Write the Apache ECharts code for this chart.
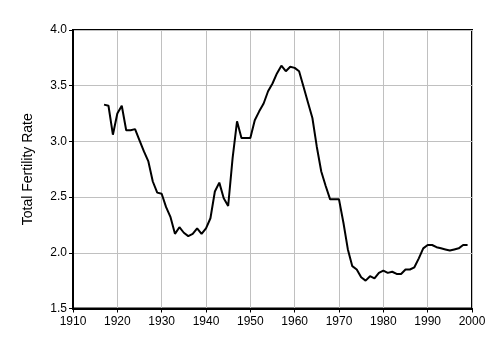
<!DOCTYPE html>
<html><head><meta charset="utf-8">
<script src="https://cdn.jsdelivr.net/npm/echarts@6/dist/echarts.min.js"></script>
<style>html,body{margin:0;padding:0;background:#fff}#c{width:499px;height:344px}</style>
</head><body><div id="c"></div>
<script>
var years = [1917,1918,1919,1920,1921,1922,1923,1924,1925,1926,1927,1928,1929,1930,1931,1932,1933,1934,1935,1936,1937,1938,1939,1940,1941,1942,1943,1944,1945,1946,1947,1948,1949,1950,1951,1952,1953,1954,1955,1956,1957,1958,1959,1960,1961,1962,1963,1964,1965,1966,1967,1968,1969,1970,1971,1972,1973,1974,1975,1976,1977,1978,1979,1980,1981,1982,1983,1984,1985,1986,1987,1988,1989,1990,1991,1992,1993,1994,1995,1996,1997,1998,1999];
var tfr = [3.33,3.32,3.06,3.25,3.32,3.10,3.10,3.11,3.01,2.91,2.82,2.64,2.54,2.53,2.41,2.32,2.17,2.23,2.18,2.15,2.17,2.22,2.17,2.22,2.31,2.55,2.63,2.49,2.42,2.85,3.18,3.03,3.03,3.03,3.19,3.27,3.34,3.45,3.52,3.61,3.68,3.63,3.67,3.66,3.63,3.49,3.35,3.21,2.95,2.73,2.60,2.48,2.48,2.48,2.27,2.03,1.88,1.85,1.78,1.75,1.79,1.77,1.82,1.84,1.82,1.83,1.81,1.81,1.85,1.85,1.87,1.95,2.04,2.07,2.07,2.05,2.04,2.03,2.02,2.03,2.04,2.07,2.07];
var yTitle = "Total Fertility Rate";
var pts = years.map(function(y,i){return [y,tfr[i]];});
var chart = echarts.init(document.getElementById('c'));
var font = 'Liberation Sans, Arial, sans-serif';
chart.setOption({
  animation:false,
  grid:{left:73,right:27,top:30,bottom:35.5,show:true,borderColor:'#000',borderWidth:2},
  xAxis:{type:'value',min:1910,max:2000,interval:10,
    axisLine:{lineStyle:{color:'#000',width:2}},
    axisTick:{show:true,length:4,lineStyle:{color:'#000',width:1}},
    axisLabel:{color:'#000',fontFamily:font,fontSize:12,margin:7,formatter:function(v){return String(v);}},
    splitLine:{show:true,lineStyle:{color:'#c0c0c0',width:1}}},
  yAxis:{type:'value',min:1.5,max:4.0,interval:0.5,
    name:yTitle,nameLocation:'middle',nameGap:38,
    nameTextStyle:{color:'#000',fontFamily:font,fontSize:14},
    axisLine:{show:true,lineStyle:{color:'#000',width:2}},
    axisTick:{show:true,length:4,lineStyle:{color:'#000',width:1}},
    axisLabel:{color:'#000',fontFamily:font,fontSize:12,margin:6,formatter:function(v){return v.toFixed(1);}},
    splitLine:{show:true,lineStyle:{color:'#c0c0c0',width:1}}},
  series:[{type:'line',data:pts,showSymbol:false,lineStyle:{color:'#000',width:2},itemStyle:{color:'#000'}}]
});
</script></body></html>
